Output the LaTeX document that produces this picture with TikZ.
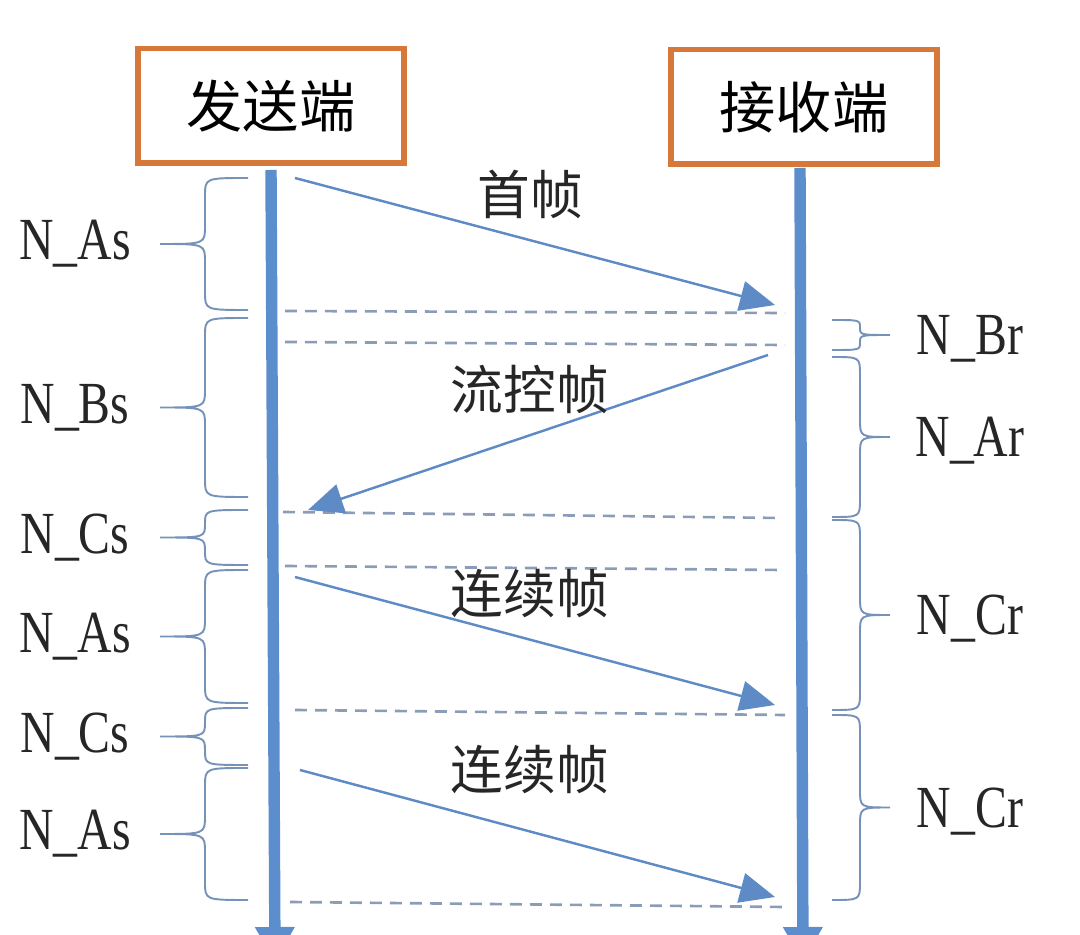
\documentclass[tikz,border=0pt]{standalone}
\usepackage{fontspec}
\usepackage{tikz}
\newfontfamily\cjk{Noto Sans CJK SC}
\newfontfamily\timerfont[FakeStretch=0.8]{Liberation Serif}
\usetikzlibrary{arrows.meta, positioning, decorations.pathreplacing, calc}
\definecolor{boxorange}{RGB}{214,120,58}
\definecolor{lifeblue}{RGB}{92,142,206}
\definecolor{msgblue}{RGB}{94,138,198}
\definecolor{dashgray}{RGB}{140,156,182}
\definecolor{curlgray}{RGB}{118,146,184}
\tikzstyle{party} = [rectangle, draw=boxorange, line width=3.4pt, minimum width=5.34cm, minimum height=2.3cm, font=\cjk\fontsize{32}{38}\selectfont]
\tikzstyle{life} = [line width=6.5pt, draw=lifeblue, -{Triangle[length=0.7cm, width=0.75cm]}]
\tikzstyle{msg} = [line width=1.4pt, draw=msgblue, -{Triangle[length=0.7cm, width=0.6cm]}]
\tikzstyle{msglabel} = [font=\cjk\fontsize{30}{36}\selectfont, text=black!85]
\tikzstyle{timeline} = [line width=1.5pt, draw=dashgray, dash pattern=on 0.24cm off 0.16cm]
\tikzstyle{curl} = [line width=1.1pt, draw=curlgray]
\tikzstyle{timer} = [font=\timerfont\fontsize{34}{40}\selectfont, text=black!85]

% sender side brace: top y, bottom y, name, text
\newcommand{\sendcurl}[4]{%
    \pgfmathsetmacro{\cmid}{(#1+#2)/2}%
    \pgfmathsetmacro{\crad}{min(18,(#2-#1)/4)}%
    \draw [curl] (248,#1) .. controls (205,#1) .. (205,#1+\crad) -- (205,\cmid-\crad)
        .. controls (205,\cmid) .. (160,\cmid) .. controls (205,\cmid) .. (205,\cmid+\crad)
        -- (205,#2-\crad) .. controls (205,#2) .. (248,#2);
    \node (#3) [timer] at (75,\cmid) {#4};
}
% receiver side brace: top y, bottom y, name, text
\newcommand{\recvcurl}[4]{%
    \pgfmathsetmacro{\cmid}{(#1+#2)/2}%
    \pgfmathsetmacro{\crad}{min(18,(#2-#1)/4)}%
    \draw [curl] (832,#1) .. controls (860,#1) .. (860,#1+\crad) -- (860,\cmid-\crad)
        .. controls (860,\cmid) .. (890,\cmid) .. controls (860,\cmid) .. (860,\cmid+\crad)
        -- (860,#2-\crad) .. controls (860,#2) .. (832,#2);
    \node (#3) [timer] at (970,\cmid+4) {#4};
}

\begin{document}
\begin{tikzpicture}[x=0.02cm, y=-0.02cm]
    \useasboundingbox (0,0) rectangle (1080,935);

    % Sender and receiver
    \node (send) [party] at (271,106) {发送端};
    \node (recv) [party] at (804,107) {接收端};

    % Lifelines
    \coordinate (sendtop) at (271,170);
    \coordinate (recvtop) at (800,168);
    \coordinate (sendend) at (275,962);
    \coordinate (recvend) at (803,962);
    \draw [life] (sendtop) -- (sendend);
    \draw [life] (recvtop) -- (recvend);

    % Time marks
    \draw [timeline] (285,311) -- (785,313);
    \draw [timeline] (285,342) -- (785,345);
    \draw [timeline] (283,512) -- (780,518);
    \draw [timeline] (285,566) -- (783,570);
    \draw [timeline] (295,710) -- (785,715);
    \draw [timeline] (290,902) -- (785,907);

    % Frames
    \coordinate (ffs) at (295,178);
    \coordinate (ffe) at (775,305);
    \draw [msg] (ffs) -- (ffe);
    \node (first) [msglabel] at (530,194) {首帧};

    \coordinate (fcs) at (768,355);
    \coordinate (fce) at (308,510);
    \draw [msg] (fcs) -- (fce);
    \node (flow) [msglabel] at (530,390) {流控帧};

    \coordinate (cfas) at (295,577);
    \coordinate (cfae) at (775,705);
    \draw [msg] (cfas) -- (cfae);
    \node (consA) [msglabel] at (530,594) {连续帧};

    \coordinate (cfbs) at (300,770);
    \coordinate (cfbe) at (775,897);
    \draw [msg] (cfbs) -- (cfbe);
    \node (consB) [msglabel] at (530,770) {连续帧};

    % Sender timers
    \sendcurl{178}{310}{asA}{N\_As}
    \sendcurl{318}{497}{bs}{N\_Bs}
    \sendcurl{510}{565}{csA}{N\_Cs}
    \sendcurl{570}{703}{asB}{N\_As}
    \sendcurl{708}{765}{csB}{N\_Cs}
    \sendcurl{768}{900}{asC}{N\_As}

    % Receiver timers
    \recvcurl{320}{350}{br}{N\_Br}
    \recvcurl{357}{517}{ar}{N\_Ar}
    \recvcurl{520}{710}{crA}{N\_Cr}
    \recvcurl{715}{900}{crB}{N\_Cr}
\end{tikzpicture}
\end{document}
